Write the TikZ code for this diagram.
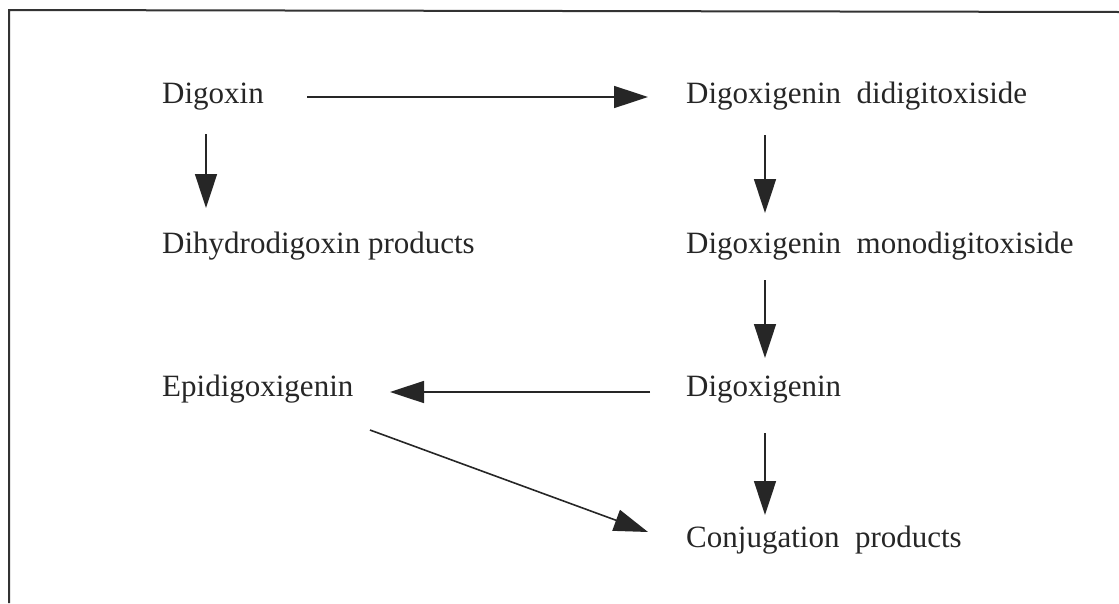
\documentclass[tikz,border=0pt]{standalone}
\usepackage{fontspec}
\setmainfont{Liberation Serif}
\usetikzlibrary{arrows.meta}
\begin{document}
\begin{tikzpicture}[x=1pt,y=-1pt,
  lbl/.style={anchor=base west,inner sep=0pt,font=\fontsize{31}{36}\selectfont,text=black!85},
  arr/.style={line width=1.6pt,draw=black!85,-{Triangle[length=34pt,width=22pt,fill=black!85]}}]
\useasboundingbox (0,0) rectangle (1119,603);
\draw[line width=2pt,black!80] (9,603) -- (9,10) -- (1119,12);
\node[lbl] (dig) at (162,103) {Digoxin};
\node[lbl] (ddt) at (686,103) {Digoxigenin\ \ didigitoxiside};
\node[lbl] (dih) at (162,253) {Dihydrodigoxin products};
\node[lbl] (mdt) at (686,253) {Digoxigenin\ \ monodigitoxiside};
\node[lbl] (epi) at (162,396) {Epidigoxigenin};
\node[lbl] (dgn) at (686,396) {Digoxigenin};
\node[lbl] (con) at (686,547) {Conjugation\ \ products};
\coordinate (a1s) at (307,97);   \coordinate (a1e) at (648,97);
\coordinate (a2s) at (206,134);  \coordinate (a2e) at (206,208);
\coordinate (a3s) at (765,135);  \coordinate (a3e) at (765,213);
\coordinate (a4s) at (765,280);  \coordinate (a4e) at (765,358);
\coordinate (a5s) at (650,392);  \coordinate (a5e) at (390,392);
\coordinate (a6s) at (765,433);  \coordinate (a6e) at (765,515);
\coordinate (a7s) at (370,430);  \coordinate (a7e) at (648,532);
\draw[arr] (a1s) -- (a1e);
\draw[arr] (a2s) -- (a2e);
\draw[arr] (a3s) -- (a3e);
\draw[arr] (a4s) -- (a4e);
\draw[arr] (a5s) -- (a5e);
\draw[arr] (a6s) -- (a6e);
\draw[arr] (a7s) -- (a7e);
\end{tikzpicture}
\end{document}
